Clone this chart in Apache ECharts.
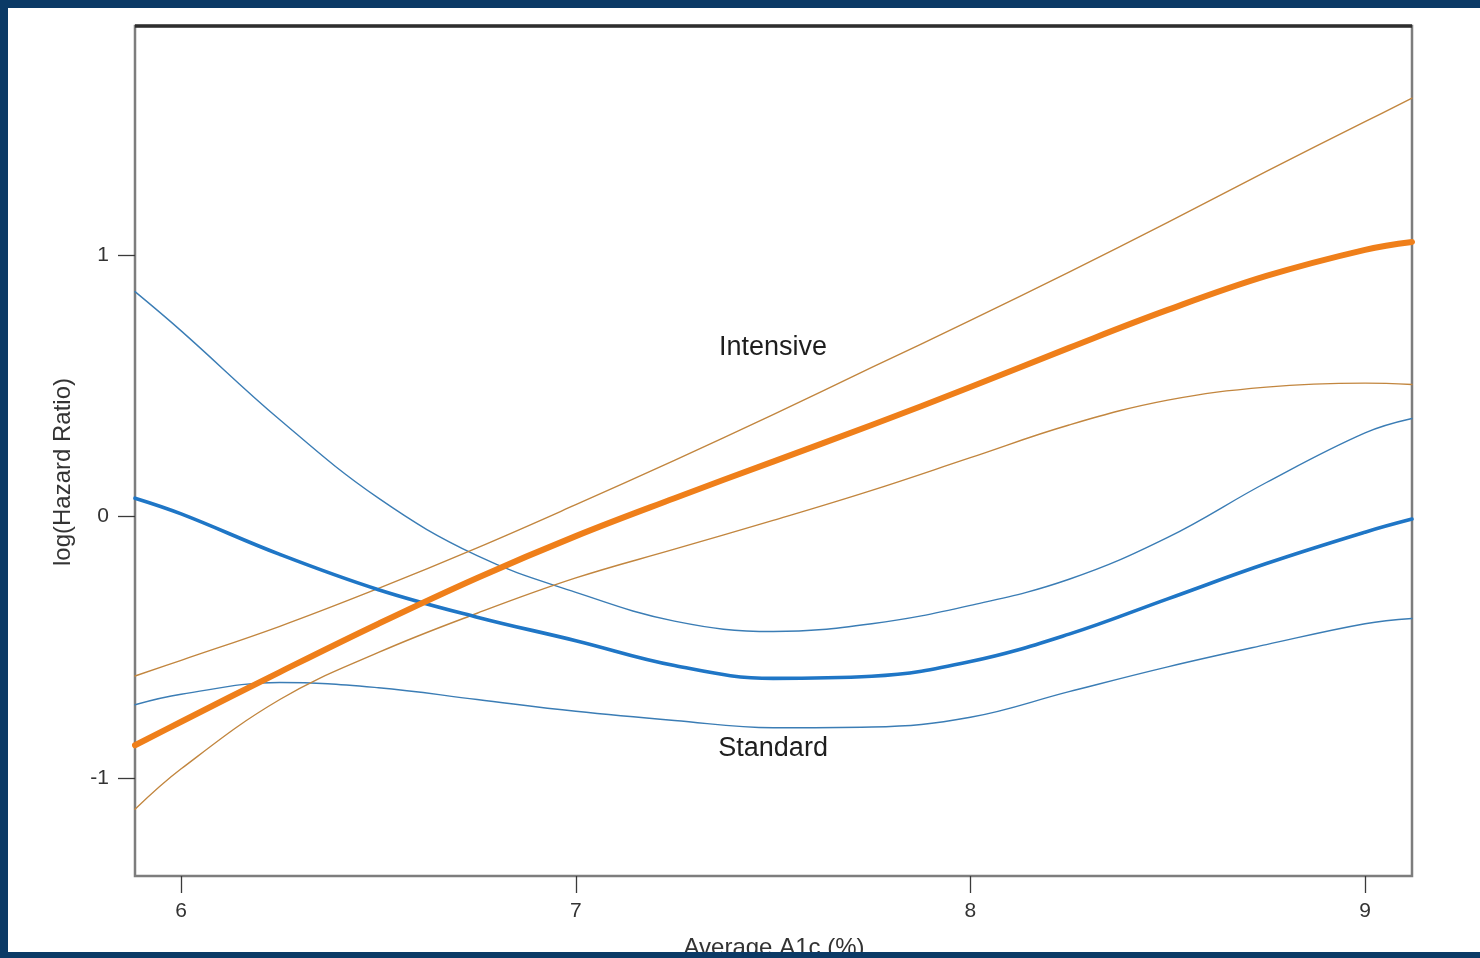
<!DOCTYPE html>
<html>
<head>
<meta charset="utf-8">
<script src="https://cdn.jsdelivr.net/npm/echarts@6/dist/echarts.min.js"></script>
<style>
  html, body { margin: 0; padding: 0; background: #ffffff; }
  #chart { width: 1480px; height: 958px; }
</style>
</head>
<body>
<div id="chart"></div>
<script>
// Average A1c (%) sample points shared by every curve
const a1c = [5.883, 6.0, 6.25, 6.5, 6.75, 7.0, 7.25, 7.5, 7.75, 8.0, 8.25, 8.5, 8.75, 9.0, 9.119];

// Intensive arm: fitted log hazard ratio with its upper and lower bands
const intensiveFit   = [-0.875, -0.785, -0.595, -0.41, -0.235, -0.075, 0.07, 0.21, 0.35, 0.495, 0.645, 0.79, 0.92, 1.02, 1.05];
const intensiveUpper = [-0.61, -0.55, -0.42, -0.275, -0.12, 0.045, 0.215, 0.39, 0.57, 0.75, 0.935, 1.125, 1.32, 1.51, 1.60];
const intensiveLower = [-1.12, -0.965, -0.70, -0.52, -0.37, -0.235, -0.125, -0.015, 0.10, 0.225, 0.35, 0.445, 0.495, 0.51, 0.505];

// Standard arm: fitted log hazard ratio with its upper and lower bands
const standardFit   = [0.07, 0.01, -0.145, -0.28, -0.385, -0.475, -0.57, -0.619, -0.611, -0.555, -0.45, -0.315, -0.18, -0.06, -0.01];
const standardUpper = [0.86, 0.71, 0.37, 0.07, -0.15, -0.29, -0.40, -0.44, -0.41, -0.34, -0.24, -0.08, 0.13, 0.32, 0.375];
const standardLower = [-0.72, -0.68, -0.635, -0.655, -0.70, -0.745, -0.78, -0.808, -0.805, -0.768, -0.67, -0.575, -0.49, -0.41, -0.39];

// Axis ticks and labels
const xTicks = [6, 7, 8, 9];
const yTicks = [-1, 0, 1];
const xRange = [5.883, 9.119];
const yRange = [-1.375, 1.876];

// In-plot group annotations: [A1c, log HR, text]
const groupLabels = [
  [7.5, 0.646, 'Intensive'],
  [7.5, -0.887, 'Standard']
];

const pairs = ys => a1c.map((x, i) => [x, ys[i]]);

const FONT = '"Liberation Sans", Arial, sans-serif';
const NAVY = '#0b3a66';

function curve(name, ys, color, width) {
  return {
    name, type: 'line', data: pairs(ys), smooth: 0.4,
    showSymbol: false, silent: true, z: width > 3 ? 4 : 3,
    lineStyle: { color, width, cap: 'round', join: 'round' }
  };
}

const chart = echarts.init(document.getElementById('chart'), null, { renderer: 'canvas' });

chart.setOption({
  animation: false,
  backgroundColor: '#ffffff',
  grid: {
    left: 135, right: 68, top: 26, bottom: 82,
    show: true, borderColor: '#7d7d7d', borderWidth: 2.5, backgroundColor: 'transparent'
  },
  xAxis: {
    type: 'value', min: xRange[0], max: xRange[1],
    splitLine: { show: false },
    axisLine: { show: false, onZero: false },
    axisTick: { show: true, length: 17, inside: false, customValues: xTicks,
                lineStyle: { color: '#3a3a3a', width: 1.3 } },
    axisLabel: { show: true, customValues: xTicks, margin: 25, color: '#333',
                 fontSize: 21, fontFamily: FONT }
  },
  yAxis: {
    type: 'value', min: yRange[0], max: yRange[1],
    splitLine: { show: false },
    axisLine: { show: false, onZero: false },
    axisTick: { show: true, length: 17, inside: false, customValues: yTicks,
                lineStyle: { color: '#3a3a3a', width: 1.3 } },
    axisLabel: { show: true, customValues: yTicks, margin: 26, color: '#333',
                 fontSize: 21, fontFamily: FONT }
  },
  series: [
    curve('Standard upper', standardUpper, '#3b7db5', 1.4),
    curve('Standard lower', standardLower, '#3b7db5', 1.4),
    curve('Standard', standardFit, '#1f76c6', 3.6),
    curve('Intensive upper', intensiveUpper, '#c2863f', 1.4),
    curve('Intensive lower', intensiveLower, '#c2863f', 1.4),
    curve('Intensive', intensiveFit, '#ef7f1a', 6)
  ],
  graphic: [
    // darker top edge of the plot box
    { type: 'line', z: 50, shape: { x1: 135, y1: 26, x2: 1412, y2: 26 },
      style: { stroke: '#2e2e2e', lineWidth: 3.5 } },
    // y-axis title
    { type: 'text', z: 50, x: 63, y: 472, rotation: Math.PI / 2,
      style: { text: 'log(Hazard Ratio)', fill: '#333', font: '24px ' + FONT,
               align: 'center', verticalAlign: 'middle' } },
    // x-axis title
    { type: 'text', z: 50, x: 774, y: 948,
      style: { text: 'Average A1c (%)', fill: '#333', font: '24px ' + FONT,
               align: 'center', verticalAlign: 'middle' } },
    // slide frame
    { type: 'rect', z: 100, shape: { x: 0, y: 0, width: 1480, height: 8 }, style: { fill: NAVY } },
    { type: 'rect', z: 100, shape: { x: 0, y: 0, width: 8, height: 958 }, style: { fill: NAVY } },
    { type: 'rect', z: 100, shape: { x: 0, y: 952, width: 1480, height: 6 }, style: { fill: NAVY } }
  ]
});

// Place the group names at their data coordinates
chart.setOption({
  graphic: groupLabels.map((g, i) => {
    const [px, py] = chart.convertToPixel({ gridIndex: 0 }, [g[0], g[1]]);
    return {
      id: 'group-' + i, type: 'text', z: 60, x: px, y: py,
      style: { text: g[2], fill: '#1e1e1e', font: '27px ' + FONT,
               align: 'center', verticalAlign: 'middle' }
    };
  })
});
</script>
</body>
</html>
